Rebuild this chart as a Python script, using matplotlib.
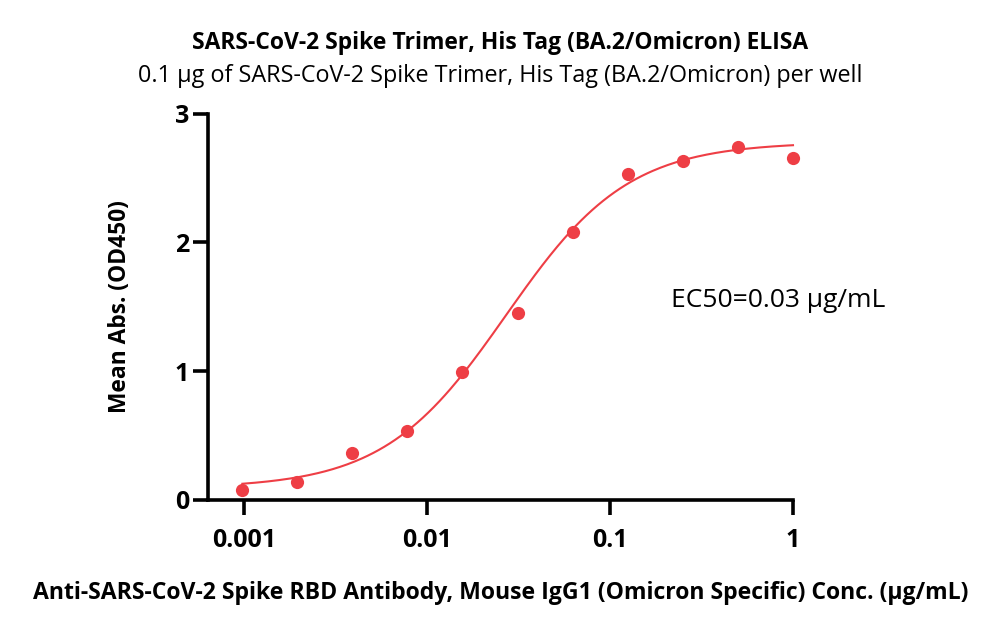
import matplotlib
matplotlib.use("Agg")
import matplotlib.pyplot as plt
import numpy as np

plt.rcParams['font.family'] = ['Open Sans', 'DejaVu Sans']

# measured data (ELISA, OD450)
conc = [0.000977, 0.00195, 0.0039, 0.0078, 0.0156, 0.03125, 0.0625, 0.125, 0.25, 0.5, 1.0]
od450 = [0.078, 0.142, 0.368, 0.539, 0.99, 1.45, 2.08, 2.53, 2.63, 2.745, 2.655]

# 4PL fit parameters
fit_bottom = 0.09
fit_top = 2.78
fit_ec50 = 0.027
fit_hill = 1.3

x_ticks = [0.001, 0.01, 0.1, 1]
x_ticklabels = ['0.001', '0.01', '0.1', '1']
y_ticks = [0, 1, 2, 3]

red = '#EE3E45'

fig = plt.figure(figsize=(10, 6.32), dpi=100)
ax = fig.add_axes([0.208, 0.209, 0.585, 0.611])

xs = np.logspace(np.log10(conc[0]), np.log10(conc[-1]), 300)
ys = fit_bottom + (fit_top - fit_bottom) / (1 + (fit_ec50 / xs) ** fit_hill)
ax.plot(xs, ys, color=red, lw=1.5, zorder=2, clip_on=False)
ax.plot(conc, od450, 'o', color=red, ms=9.5, mec='none', zorder=3, clip_on=False)

ax.set_xscale('log')
ax.set_xlim(0.000634, 1.0)
ax.set_ylim(0, 3)
ax.set_xticks(x_ticks)
ax.set_xticklabels(x_ticklabels)
ax.minorticks_off()
ax.set_yticks(y_ticks)

for s in ['top', 'right']:
    ax.spines[s].set_visible(False)
for s in ['left', 'bottom']:
    ax.spines[s].set_linewidth(2.6)
    ax.spines[s].set_capstyle('projecting')
ax.tick_params(axis='both', width=2.6, length=10.5, labelsize=18)
ax.tick_params(axis='x', pad=10)
ax.tick_params(axis='y', pad=3)
for lab in ax.get_xticklabels() + ax.get_yticklabels():
    lab.set_fontweight('bold')

ax.set_xlabel('Anti-SARS-CoV-2 Spike RBD Antibody, Mouse IgG1 (Omicron Specific) Conc. (μg/mL)',
              fontsize=16.6, fontweight='bold', labelpad=20)
ax.set_ylabel('Mean Abs. (OD450)', fontsize=16.4, fontweight='bold', labelpad=31)

fig.text(0.5, 0.932, 'SARS-CoV-2 Spike Trimer, His Tag (BA.2/Omicron) ELISA',
         ha='center', va='center', fontsize=16.5, fontweight='bold')
fig.text(0.5, 0.880, '0.1 μg of SARS-CoV-2 Spike Trimer, His Tag (BA.2/Omicron) per well',
         ha='center', va='center', fontsize=16.8)
ax.text(0.214, 1.55, 'EC50=0.03 μg/mL', fontsize=19, ha='left', va='center')

fig.savefig('out.png', dpi=100, facecolor='white')
